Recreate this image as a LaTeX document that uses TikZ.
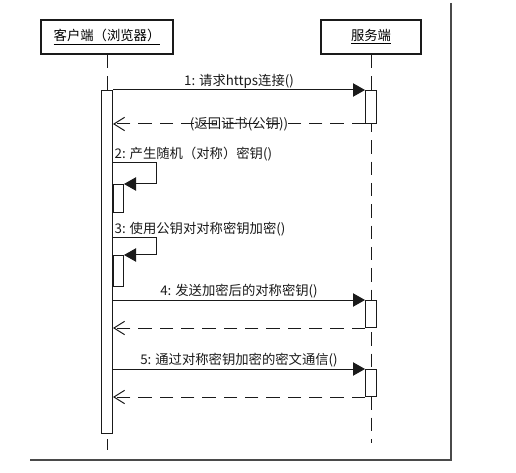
\documentclass[tikz,border=0pt]{standalone}
\usepackage{fontspec}
\setmainfont{Noto Sans CJK SC}
\usepackage{xcolor}
\definecolor{colLine}{HTML}{1A1A1A}
\definecolor{colFrame}{HTML}{4A4A4A}
\usetikzlibrary{arrows.meta, positioning, calc}
\tikzset{
    actor/.style={
        draw=colLine, line width=1.5pt, fill=white,
        minimum width=#1, minimum height=25.5pt,
        inner sep=0pt,
        font=\fontsize{10}{12}\selectfont
    },
    actor/.default=75pt,
    actbar/.style={draw=colLine, line width=0.75pt, fill=white, minimum width=#1, inner sep=0pt},
    actbar/.default=8.25pt,
    lifeline/.style={draw=colLine, line width=0.75pt, dash pattern=on 10pt off 6pt},
    callarrow/.style={-{Triangle[length=9pt, width=10pt]}, line width=0.75pt, color=colLine},
    retarrow/.style={-{Straight Barb[length=8pt, width=10pt]}, line width=0.75pt,
        color=colLine, dash pattern=on 10pt off 6pt},
    msg/.style={font=\fontsize{10}{12}\selectfont, inner sep=1pt, text=colLine},
    pageframe/.style={line width=1.8pt, color=colFrame},
}
\begin{document}
\begin{tikzpicture}[x=0.75pt, y=-0.75pt]
    \useasboundingbox (0,0) rectangle (516,473);

    \node[actor=99pt] (client) at (107,37) {\underline{客户端（浏览器）}};
    \node[actor=75pt] (server) at (371,37) {\underline{服务端}};

    % lifelines
    \coordinate (cend) at (107,450);
    \coordinate (send) at (371,443);
    \draw[lifeline] (client.south) -- (cend);
    \draw[lifeline] (server.south) -- (send);

    % activation bars
    \node[actbar, minimum height=343*0.75, anchor=north] (cbar) at (107,90) {};
    \node[actbar, minimum height=33*0.75, anchor=north] (sb1) at (371,90) {};
    \node[actbar, minimum height=27*0.75, anchor=north] (sb2) at (371,300) {};
    \node[actbar, minimum height=27*0.75, anchor=north] (sb3) at (371,369) {};

    % 1: request
    \draw[callarrow] (cbar.north east) -- (sb1.north west)
          node[msg, midway, above] {1: 请求https连接()};
    \draw[retarrow] (sb1.south west) -- (cbar.east |- sb1.south)
          node[msg, midway] {(返回证书(公钥))};

    % 2: self call
    \coordinate (s2) at (cbar.east |- 0,163);
    \node[msg, anchor=south west] (m2) at (s2) {2: 产生随机（对称）密钥()};
    \node[actbar=7.5pt, minimum height=28*0.75, anchor=north west] (nb1)
          at (cbar.east |- 0,184) {};
    \draw[callarrow] (s2) -- ++(43,0) |- (nb1.north east);

    % 3: self call
    \coordinate (s3) at (cbar.east |- 0,238);
    \node[msg, anchor=south west] (m3) at (s3) {3: 使用公钥对对称密钥加密()};
    \node[actbar=7.5pt, minimum height=31*0.75, anchor=north west] (nb2)
          at (cbar.east |- 0,255) {};
    \draw[callarrow] (s3) -- ++(43,0) |- (nb2.north east);

    % 4 and 5
    \draw[callarrow] (cbar.east |- sb2.north) -- (sb2.north west)
          node[msg, midway, above] {4: 发送加密后的对称密钥()};
    \draw[retarrow] (sb2.south west) -- (cbar.east |- sb2.south);

    \draw[callarrow] (cbar.east |- sb3.north) -- (sb3.north west)
          node[msg, midway, above] {5: 通过对称密钥加密的密文通信()};
    \draw[retarrow] (sb3.south west) -- (cbar.east |- sb3.south);

    % page frame
    \coordinate (fr1) at (451,3);
    \coordinate (fr2) at (451,460);
    \coordinate (fr3) at (30,460);
    \draw[pageframe] (fr1) -- (fr2) -- (fr3);
\end{tikzpicture}
\end{document}
